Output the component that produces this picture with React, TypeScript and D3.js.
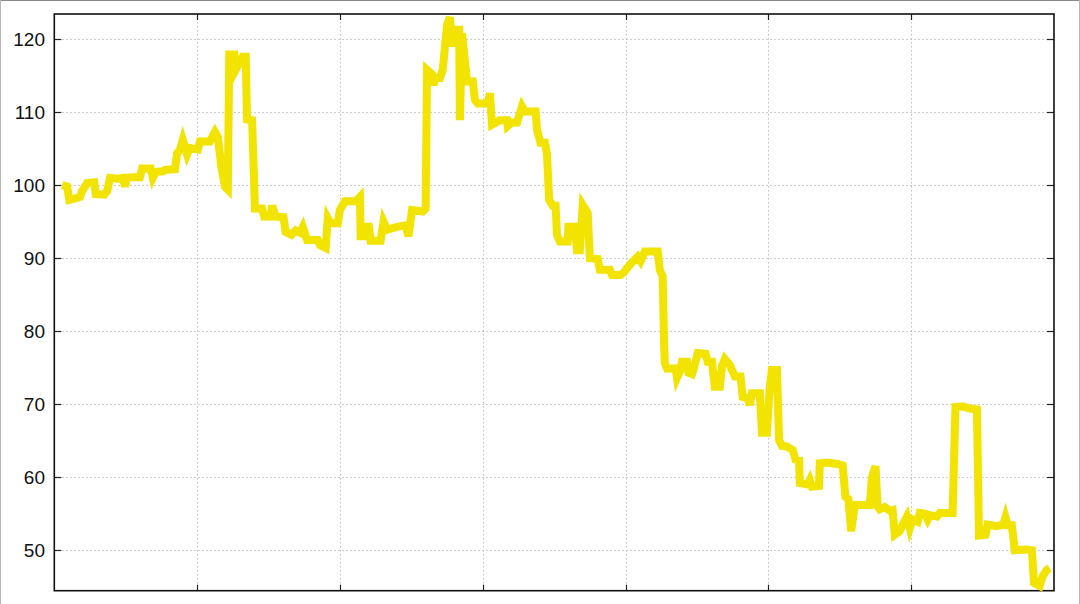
import { useEffect, useRef } from "react";
import * as d3 from "d3";

// trading-day index (x) and price (y)
const days = [
  11, 18, 21, 30, 36, 39, 46, 56, 58, 70, 74, 78, 89, 96, 99, 102, 109, 120, 123, 135,
  138, 142, 152, 155, 169, 172, 176, 180, 186, 190, 201, 204, 218, 225, 229, 234, 239, 243, 245, 252,
  254, 260, 264, 268, 270, 277, 281, 291, 294, 303, 305, 310, 321, 324, 332, 338, 344, 348, 354, 369,
  372, 380, 383, 387, 397, 400, 407, 422, 428, 429, 438, 440, 443, 457, 461, 466, 480, 492, 496, 501,
  516, 520, 522, 529, 531, 534, 540, 544, 550, 554, 557, 560, 567, 568, 571, 575, 578, 586, 589, 593,
  607, 610, 613, 624, 634, 635, 641, 648, 655, 659, 674, 676, 681, 687, 690, 693, 698, 702, 704, 708,
  719, 720, 729, 732, 736, 740, 747, 750, 761, 764, 778, 781, 793, 798, 806, 817, 821, 827, 845, 848,
  852, 854, 855, 858, 870, 872, 876, 879, 886, 888, 893, 896, 901, 912, 915, 921, 925, 932, 935, 939,
  946, 953, 961, 964, 971, 974, 977, 988, 991, 998, 1002, 1005, 1012, 1015, 1019, 1026, 1034, 1038, 1043, 1044,
  1055, 1058, 1061, 1071, 1072, 1082, 1097, 1104, 1108, 1112, 1116, 1121, 1128, 1142, 1145, 1150, 1153, 1156, 1163, 1170,
  1174, 1177, 1184, 1188, 1194, 1198, 1202, 1209, 1212, 1219, 1223, 1226, 1236, 1240, 1258, 1262, 1272, 1282, 1292, 1295,
  1304, 1307, 1320, 1329, 1332, 1335, 1341, 1345, 1362, 1369, 1372, 1380, 1384, 1390, 1394,
];

const prices = [
  100.0, 99.8, 98.0, 98.2, 98.4, 99.2, 100.3, 100.4, 98.8, 98.7, 99.2, 101.0, 100.9, 101.0, 99.8, 101.0, 101.1, 101.1, 102.3, 102.3,
  101.0, 101.8, 101.9, 102.1, 102.2, 104.4, 104.8, 106.2, 104.2, 105.1, 104.9, 106.0, 106.0, 107.3, 106.6, 102.5, 99.8, 99.4, 117.9, 117.9,
  115.8, 116.9, 117.6, 117.6, 109.0, 108.9, 96.8, 96.8, 95.7, 95.7, 97.2, 95.7, 95.6, 93.6, 93.2, 93.8, 93.5, 94.3, 92.5, 92.5,
  91.8, 91.4, 95.5, 94.8, 94.8, 96.6, 97.8, 97.8, 98.4, 93.0, 93.0, 94.8, 92.4, 92.4, 95.0, 93.9, 94.3, 94.5, 93.0, 96.6,
  96.4, 96.8, 115.8, 115.2, 113.7, 114.7, 114.7, 115.8, 122.0, 123.0, 119.0, 121.3, 121.3, 108.9, 120.8, 117.0, 114.2, 114.2, 111.7, 111.2,
  111.2, 112.6, 108.3, 108.9, 108.9, 108.1, 108.6, 108.6, 110.8, 110.1, 110.1, 107.6, 105.8, 105.8, 104.2, 98.0, 97.2, 97.2, 93.2, 92.3,
  92.3, 94.3, 94.3, 91.1, 91.1, 97.3, 96.2, 90.0, 89.9, 88.4, 88.4, 87.7, 87.7, 88.1, 89.1, 90.2, 89.6, 90.9, 90.9, 88.4,
  87.5, 78.0, 75.6, 74.9, 74.9, 73.6, 74.5, 75.8, 75.8, 74.3, 74.1, 75.0, 77.0, 76.9, 75.8, 75.8, 72.4, 72.4, 75.2, 76.2,
  75.4, 73.8, 73.8, 71.0, 70.8, 69.9, 71.5, 71.5, 66.1, 66.1, 72.4, 74.7, 74.7, 65.1, 64.3, 64.2, 63.7, 62.4, 62.3, 59.2,
  59.0, 59.6, 58.7, 58.8, 61.9, 62.0, 61.8, 61.6, 57.3, 57.0, 52.6, 56.2, 56.2, 56.2, 60.0, 61.5, 56.0, 55.6, 55.9, 55.4,
  55.5, 52.1, 52.6, 53.5, 54.6, 53.0, 54.2, 53.9, 55.1, 55.0, 54.2, 54.8, 54.6, 55.1, 55.1, 69.6, 69.7, 69.4, 69.3, 52.0,
  52.1, 53.5, 53.3, 53.5, 54.5, 53.4, 53.4, 50.0, 50.1, 50.0, 45.5, 45.1, 46.4, 47.3, 47.5,
];

const yTicks = [50, 60, 70, 80, 90, 100, 110, 120];
const xTicks = [200, 400, 600, 800, 1000, 1200];

export default function App() {
  const svgRef = useRef<SVGSVGElement>(null);

  useEffect(() => {
    if (!svgRef.current) return;
    const svg = d3.select(svgRef.current);
    svg.selectAll("*").remove();

    const left = 54.3, right = 1054, top = 14, bottom = 590.7;

    const x = d3.scaleLinear().domain([0, 1400]).range([left, right]);
    const y = d3.scaleLinear().domain([44.45, 123.45]).range([bottom, top]);

    // outer frame of the screenshot
    svg.append("line").attr("x1", 0).attr("x2", 1080).attr("y1", 0.5).attr("y2", 0.5).attr("stroke", "#8a8a8a");
    svg.append("line").attr("x1", 0.5).attr("x2", 0.5).attr("y1", 0).attr("y2", 604).attr("stroke", "#b8b8b8");
    svg.append("line").attr("x1", 1079.5).attr("x2", 1079.5).attr("y1", 0).attr("y2", 604).attr("stroke", "#b8b8b8");

    // grid
    const grid = svg.append("g").attr("stroke", "#bdbdbd").attr("stroke-width", 1).attr("stroke-dasharray", "1.5,2.5");
    yTicks.forEach(t => {
      grid.append("line").attr("x1", left).attr("x2", right).attr("y1", Math.round(y(t)) + 0.5).attr("y2", Math.round(y(t)) + 0.5);
    });
    xTicks.forEach(t => {
      grid.append("line").attr("y1", top).attr("y2", bottom).attr("x1", Math.round(x(t)) + 0.5).attr("x2", Math.round(x(t)) + 0.5);
    });

    // ticks (inward, mirrored)
    const ticks = svg.append("g").attr("stroke", "#222").attr("stroke-width", 1.2);
    yTicks.forEach(t => {
      const yy = Math.round(y(t)) + 0.5;
      ticks.append("line").attr("x1", left).attr("x2", left + 7).attr("y1", yy).attr("y2", yy);
      ticks.append("line").attr("x1", right).attr("x2", right - 7).attr("y1", yy).attr("y2", yy);
    });
    xTicks.forEach(t => {
      const xx = Math.round(x(t)) + 0.5;
      ticks.append("line").attr("x1", xx).attr("x2", xx).attr("y1", bottom).attr("y2", bottom - 6);
      ticks.append("line").attr("x1", xx).attr("x2", xx).attr("y1", top).attr("y2", top + 6);
    });

    // border
    svg.append("rect")
      .attr("x", left).attr("y", top)
      .attr("width", right - left).attr("height", bottom - top)
      .attr("fill", "none").attr("stroke", "#111").attr("stroke-width", 1.6);

    // y labels
    svg.append("g")
      .selectAll("text")
      .data(yTicks)
      .join("text")
      .attr("x", 45)
      .attr("y", d => y(d))
      .attr("dy", "0.36em")
      .attr("text-anchor", "end")
      .attr("font-family", "'Liberation Sans', Arial, sans-serif")
      .attr("font-size", 19)
      .attr("fill", "#111")
      .text(d => String(d));

    // series
    const pts = days.map((d, i) => [d, prices[i]] as [number, number]);
    const line = d3.line<[number, number]>().x(d => x(d[0])).y(d => y(d[1]));
    svg.append("path")
      .attr("d", line(pts))
      .attr("fill", "none")
      .attr("stroke", "#f2e400")
      .attr("stroke-width", 8)
      .attr("stroke-linejoin", "miter")
      .attr("stroke-miterlimit", 4);
  }, []);

  return (
    <svg
      ref={svgRef}
      width={1080}
      height={604}
      viewBox="0 0 1080 604"
      style={{ position: "fixed", left: 0, top: 0, background: "#fff", display: "block" }}
    />
  );
}
